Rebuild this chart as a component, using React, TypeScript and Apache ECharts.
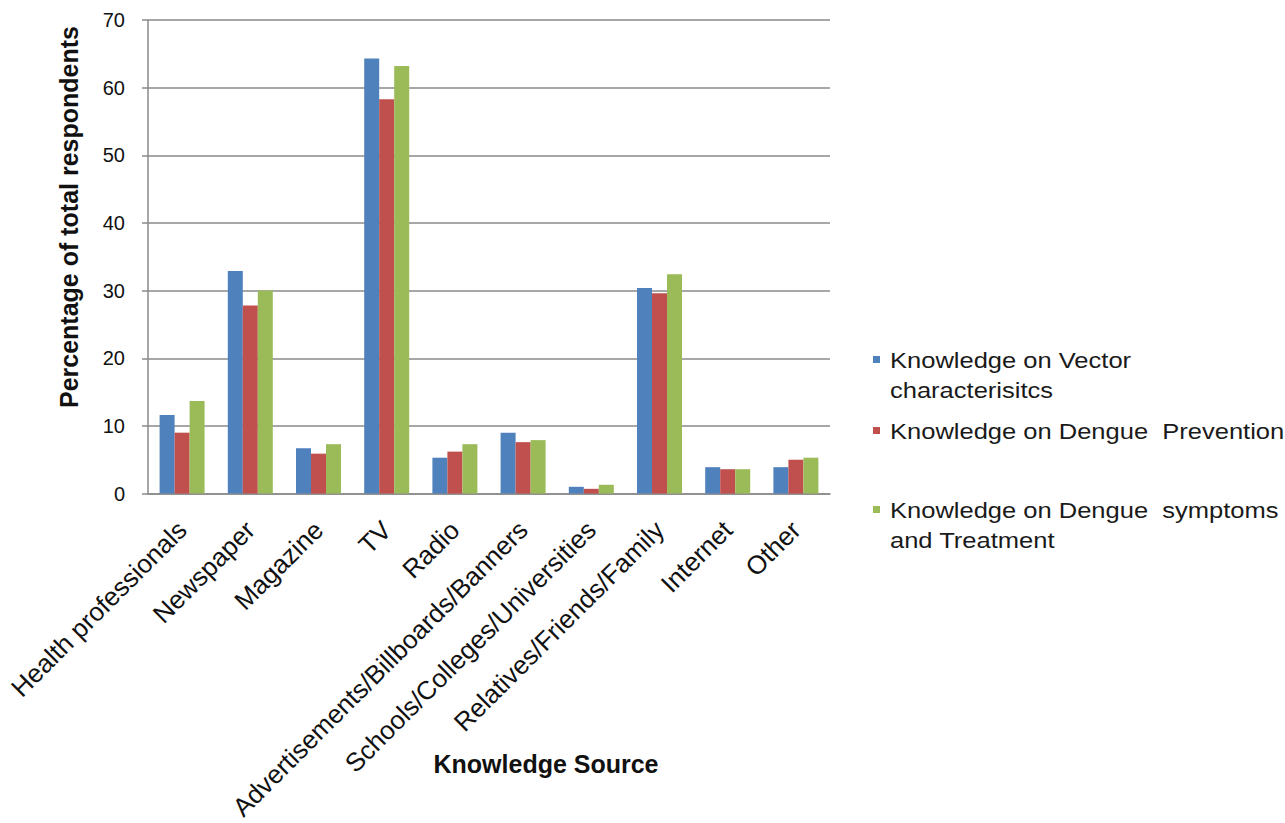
import React, { useEffect, useRef } from "react";
import * as echarts from "echarts";

const categories = [
  "Health professionals",
  "Newspaper",
  "Magazine",
  "TV",
  "Radio",
  "Advertisements/Billboards/Banners",
  "Schools/Colleges/Universities",
  "Relatives/Friends/Family",
  "Internet",
  "Other",
];

const seriesNames = [
  "Knowledge on Vector characterisitcs",
  "Knowledge on Dengue Prevention",
  "Knowledge on Dengue symptoms and Treatment",
];

const legendLines = [
  ["Knowledge on Vector", "characterisitcs"],
  ["Knowledge on Dengue  Prevention"],
  ["Knowledge on Dengue  symptoms", "and Treatment"],
];

const yTitle = "Percentage of total respondents";
const xTitle = "Knowledge Source";

const vectorValues = [11.6, 32.9, 6.7, 64.3, 5.3, 9.0, 1.0, 30.4, 3.9, 3.9];
const preventionValues = [9.0, 27.8, 5.9, 58.3, 6.2, 7.6, 0.7, 29.6, 3.6, 5.0];
const symptomsValues = [13.7, 30.0, 7.3, 63.2, 7.3, 7.9, 1.3, 32.4, 3.6, 5.3];

const colors = ["#4F81BD", "#C0504D", "#9BBB59"];

const yTicks = [0, 10, 20, 30, 40, 50, 60, 70];

export default function App() {
  const ref = useRef<HTMLDivElement>(null);

  useEffect(() => {
    if (!ref.current) return;
    const chart = echarts.init(ref.current, undefined, { renderer: "svg" });
    const allValues = [vectorValues, preventionValues, symptomsValues];
    const font = "Liberation Sans, Arial, sans-serif";

    const legendY = [360, 431, 510];
    const graphic: any[] = [];
    legendLines.forEach((lines, i) => {
      graphic.push({
        type: "rect",
        shape: { x: 873, y: legendY[i] - 4, width: 7, height: 7 },
        style: { fill: colors[i] },
      });
      graphic.push({
        type: "text",
        x: 890,
        y: legendY[i] - 15,
        scaleX: 1.16,
        style: {
          text: lines.join("\n"),
          font: `22px ${font}`,
          fill: "#1a1a1a",
          lineHeight: 30,
          textVerticalAlign: "top",
        },
      });
    });
    graphic.push({
      type: "text",
      x: 69,
      y: 217,
      rotation: Math.PI / 2,
      style: {
        text: yTitle,
        font: `bold 25px ${font}`,
        fill: "#111",
        textAlign: "center",
        textVerticalAlign: "middle",
      },
    });

    chart.setOption({
      animation: false,
      backgroundColor: "#ffffff",
      grid: { left: 148, right: 455, top: 20, bottom: 327, containLabel: false },
      legend: { show: false, data: seriesNames },
      xAxis: {
        type: "category",
        data: categories,
        name: xTitle,
        nameLocation: "middle",
        nameGap: 258,
        nameMoveOverlap: false,
        nameTextStyle: {
          fontFamily: font,
          fontWeight: "bold",
          fontSize: 25,
          color: "#111",
          padding: [0, 0, 0, 114],
        },
        axisLine: { lineStyle: { color: "#8a8a8a", width: 1.5 } },
        axisTick: { show: false },
        axisLabel: {
          rotate: 45,
          interval: 0,
          margin: 32,
          fontFamily: font,
          fontSize: 26,
          color: "#111",
        },
      },
      yAxis: {
        type: "value",
        min: 0,
        max: 70,
        interval: 10,
        axisLine: { show: true, lineStyle: { color: "#8a8a8a", width: 1.5 } },
        axisTick: { show: true, length: 6, lineStyle: { color: "#8a8a8a", width: 1.5 } },
        splitLine: { lineStyle: { color: "#8a8a8a", width: 1.5 } },
        axisLabel: {
          margin: 23,
          fontFamily: font,
          fontSize: 20,
          color: "#111",
          formatter: (v: number) => (yTicks.includes(v) ? String(v) : ""),
        },
      },
      series: seriesNames.map((name, i) => ({
        name,
        type: "bar",
        data: allValues[i],
        barWidth: 15,
        barGap: "0%",
        itemStyle: { color: colors[i] },
      })),
      graphic,
    });

    return () => chart.dispose();
  }, []);

  return (
    <div
      ref={ref}
      style={{ position: "fixed", left: 0, top: 0, width: 1285, height: 823 }}
    />
  );
}
